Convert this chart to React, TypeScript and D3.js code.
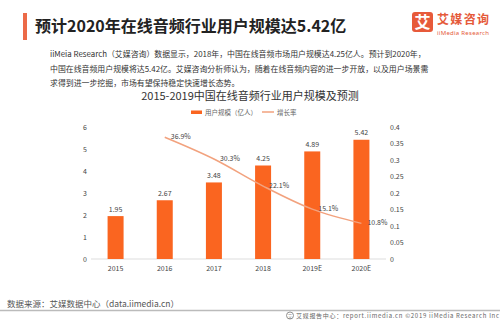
import React from "react";
import * as d3 from "d3";

const years = ["2015", "2016", "2017", "2018", "2019E", "2020E"];
const users = [1.95, 2.67, 3.48, 4.25, 4.89, 5.42];
const growthYears = ["2016", "2017", "2018", "2019E", "2020E"];
const growth = [0.369, 0.303, 0.221, 0.151, 0.108];
const growthLabels = ["36.9%", "30.3%", "22.1%", "15.1%", "10.8%"];
const leftTicks = [0, 1, 2, 3, 4, 5, 6];
const rightTicks = [0, 0.05, 0.1, 0.15, 0.2, 0.25, 0.3, 0.35, 0.4];

const title = "预计2020年在线音频行业用户规模达5.42亿";
const paragraph = [
  "iiMeia Research（艾媒咨询）数据显示，2018年，中国在线音频市场用户规模达4.25亿人。预计到2020年，",
  "中国在线音频用户规模将达5.42亿。艾媒咨询分析师认为，随着在线音频内容的进一步开放，以及用户场景需",
  "求得到进一步挖掘，市场有望保持稳定快速增长态势。",
];
const chartTitle = "2015-2019中国在线音频行业用户规模及预测";
const legendBar = "用户规模（亿人）";
const legendLine = "增长率";
const source = "数据来源：艾媒数据中心（data.iimedia.cn）";
const footer = "艾媒报告中心：report.iimedia.cn   ©2019    iiMedia Research  Inc";

const FONT = "'Noto Sans CJK SC', 'Noto Sans', sans-serif";
const BAR = "#fa6520";
const LINE = "#f2a27e";

export default function App() {
  const x = d3.scaleBand().domain(years).range([91, 386]).paddingInner(0).paddingOuter(0);
  const bw = 16;
  const yL = d3.scaleLinear().domain([0, 6]).range([259, 127]);
  const yR = d3.scaleLinear().domain([0, 0.4]).range([259, 127]);
  const cx = (k: string) => (x(k) as number) + x.bandwidth() / 2;
  const line = d3
    .line<number>()
    .x((_, i) => cx(growthYears[i]))
    .y((d) => yR(d))
    .curve(d3.curveMonotoneX);

  return (
    <svg
      width={500}
      height={325}
      style={{ position: "absolute", left: 0, top: 0, background: "#fff", fontFamily: FONT }}
    >
      <rect x={0} y={0} width={500} height={325} fill="#fff" />
      {/* header */}
      <rect x={23} y={13} width={4} height={27} fill="#ec6a48" />
      <text x={35} y={32} fontSize={16} fontWeight="bold" fill="#222">
        {title}
      </text>
      <rect x={412} y={12} width={21} height={20} rx={3} fill="#e75a3a" />
      <text x={422.5} y={28} fontSize={16} fontWeight="bold" fill="#fff" textAnchor="middle">
        艾
      </text>
      <text x={437} y={24} fontSize={12} fontWeight="bold" fill="#e55a3a" textLength={52}>
        艾媒咨询
      </text>
      <text x={437} y={35} fontSize={6} fill="#e55a3a" textLength={52} fontFamily="'Noto Sans', sans-serif">
        iiMedia Research
      </text>
      {paragraph.map((p, i) => (
        <text key={i} x={50} y={57 + i * 14.5} fontSize={7.9} fill="#333">
          {p}
        </text>
      ))}
      {/* chart title */}
      <text x={250} y={99.5} fontSize={11} fill="#333" textAnchor="middle">
        {chartTitle}
      </text>
      {/* legend */}
      <rect x={191} y={110.5} width={11} height={3.5} fill={BAR} />
      <text x={205} y={114.5} fontSize={6.5} fill="#666">
        {legendBar}
      </text>
      <line x1={262} x2={274} y1={112} y2={112} stroke={LINE} strokeWidth={1.5} />
      <text x={277} y={114.5} fontSize={6.5} fill="#666">
        {legendLine}
      </text>
      {/* axes */}
      {leftTicks.map((t) => (
        <text key={t} x={85} y={yL(t) + 2.5} fontSize={7} fill="#444" textAnchor="middle">
          {t}
        </text>
      ))}
      {rightTicks.map((t) => (
        <text key={t} x={390} y={yR(t) + 2.5} fontSize={7} fill="#444">
          {String(t)}
        </text>
      ))}
      <line x1={91} x2={386} y1={259} y2={259} stroke="#ddd" strokeWidth={1} />
      {years.map((yv) => (
        <text key={yv} x={cx(yv)} y={270.5} fontSize={7} fill="#444" textAnchor="middle">
          {yv}
        </text>
      ))}
      {/* bars */}
      {users.map((v, i) => (
        <g key={years[i]}>
          <rect x={cx(years[i]) - bw / 2} y={yL(v)} width={bw} height={259 - yL(v)} fill={BAR} />
          <text x={cx(years[i])} y={yL(v) - 4.5} fontSize={7} fill="#444" textAnchor="middle">
            {v.toFixed(2)}
          </text>
        </g>
      ))}
      {/* line */}
      <path d={line(growth) || ""} fill="none" stroke={LINE} strokeWidth={1.5} />
      {growth.map((g, i) => (
        <text key={i} x={cx(growthYears[i]) + 6} y={yR(g) + 1.5} fontSize={7} fill="#444">
          {growthLabels[i]}
        </text>
      ))}
      {/* footer */}
      <text x={7} y={307} fontSize={8.5} fill="#555">
        {source}
      </text>
      <line x1={0} x2={500} y1={310.5} y2={310.5} stroke="#bbb" strokeWidth={1.5} />
      <circle cx={290} cy={315.5} r={3.5} fill="none" stroke="#777" strokeWidth={0.8} />
      <text x={290} y={317.5} fontSize={4.5} fill="#777" textAnchor="middle">
        艾
      </text>
      <text x={296} y={318} fontSize={6} fill="#666" textLength={203}>
        {footer}
      </text>
    </svg>
  );
}
